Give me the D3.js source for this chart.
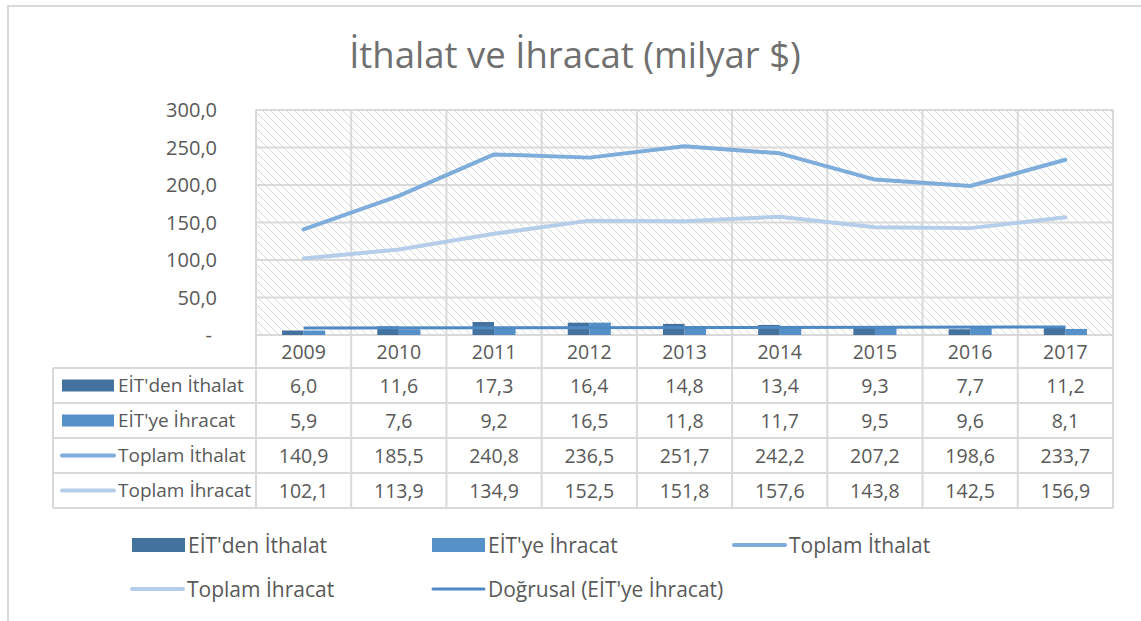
<!DOCTYPE html>
<html>
<head>
<meta charset="utf-8">
<script src="https://cdn.jsdelivr.net/npm/d3@7"></script>
<style>
  body { margin: 0; background: #fff; }
  svg text { font-family: "Open Sans", "Noto Sans", sans-serif; fill: #595959; }
</style>
</head>
<body>
<div id="chart"></div>
<script>
// Değerler (milyar $)
const years = ["2009", "2010", "2011", "2012", "2013", "2014", "2015", "2016", "2017"];
const eitIthalat = [6.0, 11.6, 17.3, 16.4, 14.8, 13.4, 9.3, 7.7, 11.2];
const eitIhracat = [5.9, 7.6, 9.2, 16.5, 11.8, 11.7, 9.5, 9.6, 8.1];
const toplamIthalat = [140.9, 185.5, 240.8, 236.5, 251.7, 242.2, 207.2, 198.6, 233.7];
const toplamIhracat = [102.1, 113.9, 134.9, 152.5, 151.8, 157.6, 143.8, 142.5, 156.9];
const yTicks = [0, 50, 100, 150, 200, 250, 300];

const W = 1141, H = 621;
const plot = { left: 256, right: 1113, top: 110, bottom: 335 };
const headH = 33, rowH = 35;
const keyLeft = 53;

const colors = {
  dark: "#44729f",
  mid: "#5590c9",
  lineIth: "#7eaddc",
  lineIhr: "#b5cde9",
  trend: "#4e89c3",
  grid: "#d9d9d9"
};

const tr = d3.formatLocale({ decimal: ",", thousands: ".", grouping: [3], currency: ["", ""] });
const fmt = tr.format(".1f");

const svg = d3.select("#chart").append("svg")
  .attr("width", W).attr("height", H);

// hatch pattern for plot area
const defs = svg.append("defs");
defs.append("pattern")
  .attr("id", "hatch")
  .attr("patternUnits", "userSpaceOnUse")
  .attr("width", 8).attr("height", 8)
  .append("path")
  .attr("d", "M0,0 L8,8 M-2,6 L2,10 M6,-2 L10,2")
  .attr("stroke", "#d6d6d6")
  .attr("stroke-width", 0.9);

// outer frame (only top and left edges visible)
svg.append("path")
  .attr("d", `M8,${H} L8,6 L${W},6`)
  .attr("fill", "none")
  .attr("stroke", "#d9d9d9")
  .attr("stroke-width", 2);

// title
svg.append("text")
  .attr("x", 575).attr("y", 68)
  .attr("text-anchor", "middle")
  .style("font-size", "36.5px")
  .style("fill", "#6f6f6f")
  .text("İthalat ve İhracat (milyar $)");

const x = d3.scaleBand().domain(years).range([plot.left, plot.right]);
const y = d3.scaleLinear().domain([0, 300]).range([plot.bottom, plot.top]);
const sub = d3.scaleBand().domain(["ith", "ihr"]).range([0, x.bandwidth()]).paddingOuter(1.21);

svg.append("rect")
  .attr("x", plot.left).attr("y", plot.top)
  .attr("width", plot.right - plot.left).attr("height", plot.bottom - plot.top)
  .attr("fill", "url(#hatch)");

// gridlines
const grid = svg.append("g").attr("stroke", colors.grid).attr("stroke-width", 2);
grid.selectAll("line.h").data(yTicks).join("line")
  .attr("class", "h")
  .attr("x1", plot.left).attr("x2", plot.right)
  .attr("y1", d => y(d)).attr("y2", d => y(d));

const rowTop = k => plot.bottom + headH + rowH * k;
const tableBottom = rowTop(4);
const colEdges = years.map(d => x(d)).concat([plot.right]);
grid.selectAll("line.v").data(colEdges).join("line")
  .attr("class", "v")
  .attr("x1", d => d).attr("x2", d => d)
  .attr("y1", plot.top).attr("y2", tableBottom);

// table horizontal rules
const rowEdges = d3.range(0, 5).map(rowTop);
grid.selectAll("line.r").data(rowEdges).join("line")
  .attr("class", "r")
  .attr("x1", keyLeft).attr("x2", plot.right)
  .attr("y1", d => d).attr("y2", d => d);
grid.append("line")
  .attr("x1", keyLeft).attr("x2", keyLeft)
  .attr("y1", rowTop(0)).attr("y2", tableBottom);

// y axis labels
svg.append("g").selectAll("text").data(yTicks).join("text")
  .attr("x", d => d === 0 ? 212 : 217)
  .attr("y", d => y(d))
  .attr("dy", "0.36em")
  .attr("text-anchor", "end")
  .style("font-size", "20px")
  .text(d => d === 0 ? "-" : fmt(d));

// bars
const bars = svg.append("g");
bars.selectAll("rect.ith").data(eitIthalat).join("rect")
  .attr("x", (d, i) => x(years[i]) + sub("ith"))
  .attr("width", sub.bandwidth())
  .attr("y", d => y(d)).attr("height", d => y(0) - y(d))
  .attr("fill", colors.dark);
bars.selectAll("rect.ihr").data(eitIhracat).join("rect")
  .attr("x", (d, i) => x(years[i]) + sub("ihr"))
  .attr("width", sub.bandwidth())
  .attr("y", d => y(d)).attr("height", d => y(0) - y(d))
  .attr("fill", colors.mid);

// lines
const cx = i => x(years[i]) + x.bandwidth() / 2;
const line = d3.line().x((d, i) => cx(i)).y(d => y(d));
svg.append("path").datum(toplamIhracat)
  .attr("d", line).attr("fill", "none")
  .attr("stroke", colors.lineIhr).attr("stroke-width", 4).attr("stroke-linejoin", "round").attr("stroke-linecap", "round");
svg.append("path").datum(toplamIthalat)
  .attr("d", line).attr("fill", "none")
  .attr("stroke", colors.lineIth).attr("stroke-width", 4).attr("stroke-linejoin", "round").attr("stroke-linecap", "round");

// linear trend of EİT'ye İhracat
const idx = d3.range(eitIhracat.length);
const mx = d3.mean(idx), my = d3.mean(eitIhracat);
const slope = d3.sum(idx, i => (i - mx) * (eitIhracat[i] - my)) / d3.sum(idx, i => (i - mx) * (i - mx));
const trend = [0, eitIhracat.length - 1].map(i => ({ i, v: my + slope * (i - mx) }));
svg.append("line")
  .attr("x1", cx(trend[0].i)).attr("y1", y(trend[0].v))
  .attr("x2", cx(trend[1].i)).attr("y2", y(trend[1].v))
  .attr("stroke", colors.trend).attr("stroke-width", 3);

// table header (years)
svg.append("g").selectAll("text").data(years).join("text")
  .attr("x", d => x(d) + x.bandwidth() / 2)
  .attr("y", plot.bottom + headH / 2)
  .attr("dy", "0.36em")
  .attr("text-anchor", "middle")
  .style("font-size", "19.5px")
  .text(d => d);

// table rows
const rows = [
  { name: "EİT'den İthalat", values: eitIthalat, color: colors.dark, type: "bar" },
  { name: "EİT'ye İhracat", values: eitIhracat, color: colors.mid, type: "bar" },
  { name: "Toplam İthalat", values: toplamIthalat, color: colors.lineIth, type: "line" },
  { name: "Toplam İhracat", values: toplamIhracat, color: colors.lineIhr, type: "line" }
];

rows.forEach((r, k) => {
  const cy = rowTop(k) + rowH / 2;
  const g = svg.append("g");
  if (r.type === "bar") {
    g.append("rect").attr("x", 62).attr("y", cy - 6).attr("width", 52).attr("height", 12).attr("fill", r.color);
  } else {
    g.append("line").attr("x1", 62).attr("x2", 114).attr("y1", cy).attr("y2", cy)
      .attr("stroke", r.color).attr("stroke-width", 4).attr("stroke-linecap", "round");
  }
  g.append("text").attr("x", 118).attr("y", cy).attr("dy", "0.36em")
    .style("font-size", "19px").text(r.name);
  g.selectAll("text.v").data(r.values).join("text")
    .attr("class", "v")
    .attr("x", (d, i) => cx(i))
    .attr("y", cy).attr("dy", "0.36em")
    .attr("text-anchor", "middle")
    .style("font-size", "19.5px")
    .text(d => fmt(d));
});

// bottom legend
const legendItems = [
  { name: "EİT'den İthalat", color: colors.dark, type: "bar", x: 132, y: 545 },
  { name: "EİT'ye İhracat", color: colors.mid, type: "bar", x: 432, y: 545 },
  { name: "Toplam İthalat", color: colors.lineIth, type: "line", x: 733, y: 545 },
  { name: "Toplam İhracat", color: colors.lineIhr, type: "line", x: 131, y: 589 },
  { name: "Doğrusal (EİT'ye İhracat)", color: colors.trend, type: "trend", x: 432, y: 589 }
];
const lg = svg.append("g").selectAll("g").data(legendItems).join("g")
  .attr("transform", d => `translate(${d.x},${d.y})`);
lg.filter(d => d.type === "bar").append("rect")
  .attr("x", 0).attr("y", -7).attr("width", 53).attr("height", 14)
  .attr("fill", d => d.color);
lg.filter(d => d.type !== "bar").append("line")
  .attr("x1", 1).attr("x2", 52).attr("y1", 0).attr("y2", 0)
  .attr("stroke", d => d.color)
  .attr("stroke-width", d => d.type === "trend" ? 3 : 4)
  .attr("stroke-linecap", "round");
lg.append("text")
  .attr("x", 56).attr("y", 0).attr("dy", "0.36em")
  .style("font-size", "21px")
  .text(d => d.name);
</script>
</body>
</html>
